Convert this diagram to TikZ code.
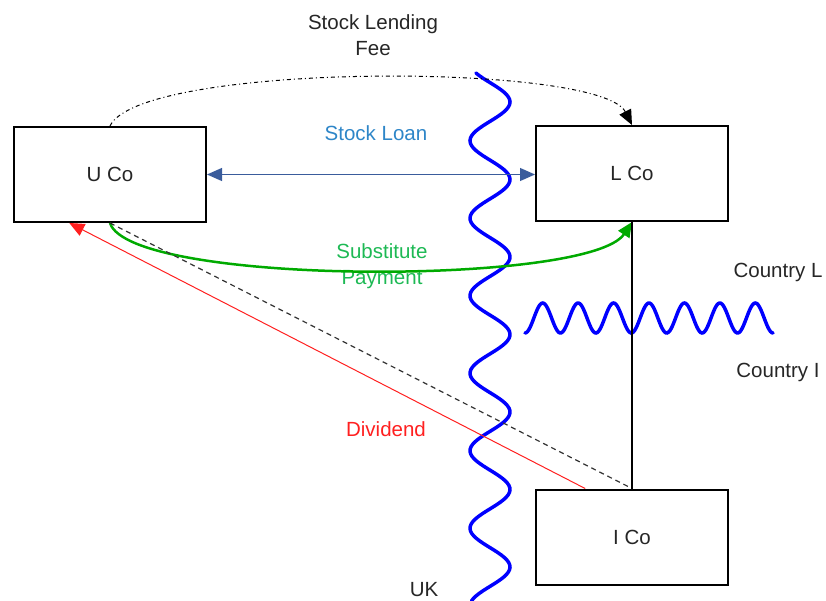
\documentclass[tikz,border=0pt]{standalone}
\usepackage{fontspec}
\setmainfont{Liberation Sans}
\usetikzlibrary{arrows.meta}

\definecolor{loanblue}{HTML}{2E86C8}
\definecolor{arrowblue}{HTML}{3A5C9C}
\definecolor{paygreen}{HTML}{1DB954}
\definecolor{linegreen}{HTML}{00AA00}
\definecolor{waveblue}{HTML}{0000FF}
\definecolor{divred}{HTML}{FF2020}

\tikzset{
  company/.style={draw, line width=2pt, minimum width=192pt, minimum height=95pt},
  tip/.style={-{Triangle[length=15pt,width=13pt]}},
  wave/.style={waveblue, line width=3.5pt, line cap=round},
}

\begin{document}
\begin{tikzpicture}[x=1pt, y=-1pt, font=\fontsize{20.5}{26}\selectfont, text=black!85]
\useasboundingbox (0,0) rectangle (826,601);

% border wave, UK on the left
\draw[wave] plot[domain=73:601, samples=220, smooth] ({490+20*cos((\x-102)/38.75*180)}, \x);

\node[company] (uco) at (110,174.5) {U Co};
\node[company] (lco) at (632,173.5) {L Co};
\node[company] (ico) at (632,537) {I Co};

\node[align=center] (fee) at (373,35) {Stock Lending\\Fee};
\node[text=loanblue] (loan) at (376,133) {Stock Loan};
\node[text=paygreen, align=center] (subst) at (382,266) {Substitute\\Payment};
\node[text=divred] (div) at (386,429) {Dividend};
\node (ctryl) at (778,272) {Country L};
\node (ctryi) at (778,372) {Country I};
\node (uk) at (424,590) {UK};

\draw[tip, line width=1pt, dash pattern=on 4pt off 3pt on 1pt off 3pt]
  (uco.north) .. controls (140,62) and (600,62) .. (lco.north);
\draw[{Triangle[length=15pt,width=13pt]}-{Triangle[length=15pt,width=13pt]}, arrowblue, line width=1.2pt]
  (uco.east) -- (lco.west |- uco.east);
\draw[tip, linegreen, line width=2.5pt]
  (uco.south) .. controls (130,286) and (590,286) .. (lco.south);
\draw[tip, divred, line width=1pt] (ico.134) -- (uco.230);
\draw[black!80, line width=1.2pt, dash pattern=on 5pt off 4pt] (uco.south) -- (ico.north);

% border wave between L and I
\draw[wave] plot[domain=525:773, samples=200, smooth] (\x, {318+15*cos((\x-525)/35.43*360)});
\draw[line width=2pt] (lco.south) -- (ico.north);
\end{tikzpicture}
\end{document}
